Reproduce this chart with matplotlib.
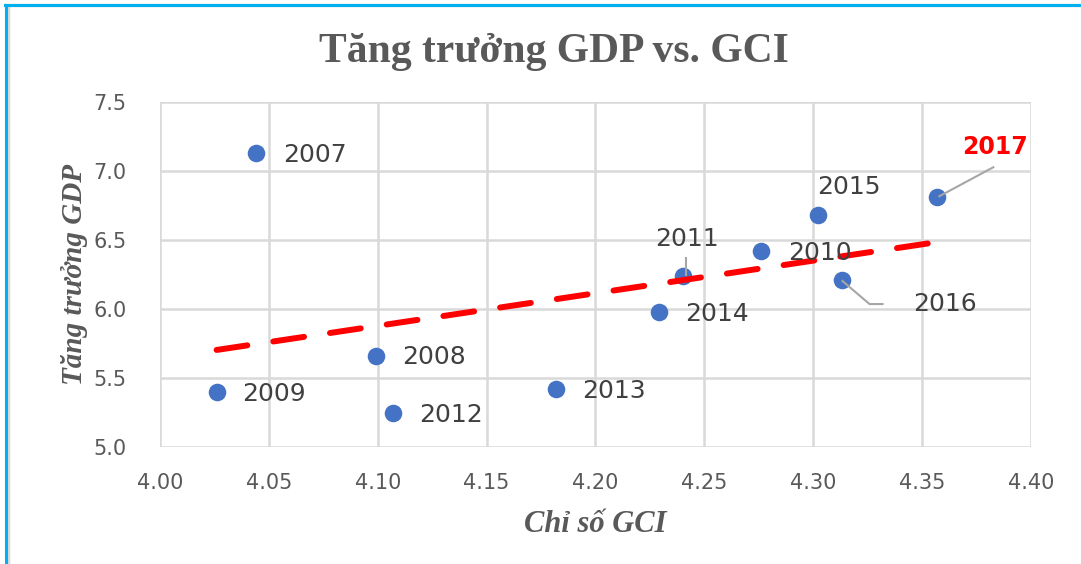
import matplotlib
matplotlib.use('Agg')
import matplotlib.pyplot as plt
from matplotlib.lines import Line2D
import numpy as np

# data
years = ['2007', '2008', '2009', '2010', '2011', '2012', '2013', '2014', '2015', '2016', '2017']
gci = [4.044, 4.099, 4.026, 4.276, 4.240, 4.107, 4.182, 4.229, 4.302, 4.313, 4.357]
gdp = [7.13, 5.66, 5.40, 6.42, 6.24, 5.25, 5.42, 5.98, 6.68, 6.21, 6.81]
x_ticks = [4.00, 4.05, 4.10, 4.15, 4.20, 4.25, 4.30, 4.35, 4.40]
y_ticks = [5.0, 5.5, 6.0, 6.5, 7.0, 7.5]

# label offsets in pixels from each point (dx, dy)
label_off = {'2007': (27, -2), '2008': (27, -1), '2009': (26, -2), '2010': (27, -2),
             '2011': (-27, 37), '2012': (26, -2), '2013': (26, -2), '2014': (27, -2),
             '2015': (0, 28), '2016': (72, -24), '2017': (25, 50)}

fig = plt.figure(figsize=(10.81, 5.64), dpi=100)
ax = fig.add_axes([0.148, 0.2074, 0.8057, 0.6117])

# trendline (linear fit over the data)
k, b = np.polyfit(gci, gdp, 1)
xt = np.array([min(gci), max(gci)])
ax.plot(xt, k * xt + b, color='#ff0000', lw=4.3, dashes=(5.2, 4.4),
        solid_capstyle='round', dash_capstyle='round', zorder=4)

ax.scatter(gci, gdp, s=160, color='#4472c4', zorder=3, linewidths=0)

for yr, x, y in zip(years, gci, gdp):
    dx, dy = label_off[yr]
    if yr == '2017':
        ax.annotate(yr, (x, y), xytext=(dx, dy), textcoords='offset pixels',
                    fontsize=17, fontweight='bold', color='#ff0000', va='center', ha='left',
                    zorder=6)
    else:
        ax.annotate(yr, (x, y), xytext=(dx, dy), textcoords='offset pixels',
                    fontsize=18, color='#404040', va='center', ha='left', zorder=6)

# leader lines
def leader(yr, pts):
    i = years.index(yr)
    px, py = ax.transData.transform((gci[i], gdp[i]))
    xs = [px + p[0] for p in pts]
    ys = [py + p[1] for p in pts]
    fig.add_artist(Line2D(xs, ys, transform=None, color='#a6a6a6', lw=1.5, zorder=5))

ax.set_xlim(4.00, 4.40)
ax.set_ylim(5.0, 7.5)
ax.set_xticks(x_ticks)
ax.set_yticks(y_ticks)
ax.set_xticklabels(['%.2f' % v for v in x_ticks])
ax.set_yticklabels(['%.1f' % v for v in y_ticks])
ax.tick_params(length=0, labelsize=15, labelcolor='#595959')
ax.tick_params(axis='x', pad=19)
ax.tick_params(axis='y', pad=24)
ax.grid(True, color='#d9d9d9', lw=1.8)
ax.set_axisbelow(True)
for s in ax.spines.values():
    s.set_visible(False)

fig.canvas.draw()
leader('2011', [(3, 1), (3, 18)])
leader('2016', [(1, -1), (28, -24), (41, -24)])
leader('2017', [(2, 1), (56, 30)])

ax.set_xlabel('Chỉ số GCI', family='Liberation Serif', style='italic', fontweight='bold',
              fontsize=22, color='#595959', labelpad=12)
ax.set_ylabel('Tăng trưởng GDP', family='Liberation Serif', style='italic', fontweight='bold',
              fontsize=21, color='#595959', labelpad=4)
fig.text(0.512, 0.908, 'Tăng trưởng GDP vs. GCI', family='Liberation Serif', fontweight='bold',
         fontsize=30, color='#595959', ha='center', va='center')

# blue frame at top and left
fig.add_artist(Line2D([0.0055, 1.0], [0.991, 0.991], color='#d9d9d9', lw=2.5))
fig.add_artist(Line2D([0.0075, 0.0075], [0.0, 0.988], color='#d9d9d9', lw=2.5))
fig.add_artist(Line2D([0.005, 1.0], [0.9915, 0.9915], color='#00b0f0', lw=2.2))
fig.add_artist(Line2D([0.0055, 0.0055], [0.0, 0.9915], color='#00b0f0', lw=2.2))

plt.savefig('out.png', dpi=100)
plt.close()
